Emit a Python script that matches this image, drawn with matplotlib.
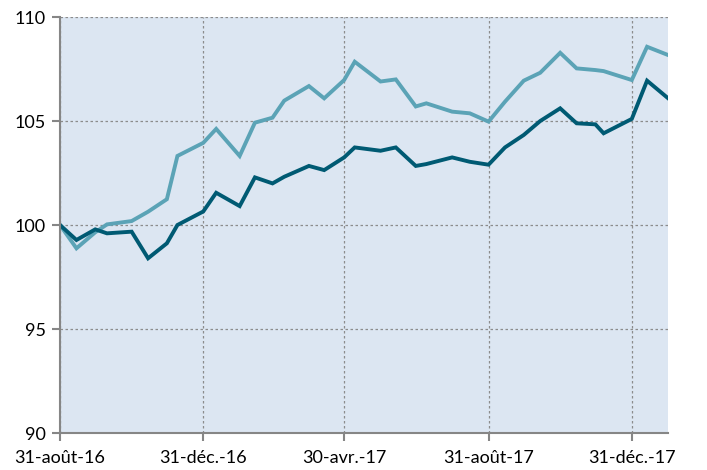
import matplotlib.pyplot as plt
import matplotlib.dates as mdates
import numpy as np
import pandas as pd

plt.rcParams['font.family'] = ['Lato', 'DejaVu Sans']

dates = ['2016-08-31', '2016-09-14', '2016-09-30', '2016-10-10', '2016-10-31',
         '2016-11-14', '2016-11-30', '2016-12-09', '2016-12-31', '2017-01-11',
         '2017-01-31', '2017-02-13', '2017-02-28', '2017-03-10', '2017-03-31',
         '2017-04-13', '2017-04-30', '2017-05-09', '2017-05-31', '2017-06-13',
         '2017-06-30', '2017-07-09', '2017-07-31', '2017-08-15', '2017-08-31',
         '2017-09-14', '2017-09-30', '2017-10-14', '2017-10-31', '2017-11-14',
         '2017-11-30', '2017-12-07', '2017-12-31', '2018-01-13', '2018-01-31']

light = [100.0, 98.88, 99.65, 100.03, 100.19, 100.64, 101.24, 103.32, 103.95, 104.62,
         103.32, 104.92, 105.16, 105.98, 106.68, 106.09, 106.97, 107.85, 106.9, 107.0,
         105.7, 105.85, 105.45, 105.37, 104.97, 105.93, 106.94, 107.32, 108.28, 107.53,
         107.45, 107.4, 106.97, 108.57, 108.17]

dark = [100.0, 99.28, 99.79, 99.6, 99.68, 98.4, 99.12, 100.0, 100.65, 101.55,
        100.91, 102.29, 102.0, 102.32, 102.84, 102.64, 103.25, 103.73, 103.57, 103.73,
        102.84, 102.93, 103.25, 103.04, 102.9, 103.73, 104.33, 105.0, 105.61, 104.89,
        104.84, 104.41, 105.1, 106.94, 106.09]

tick_dates = ['2016-08-31', '2016-12-31', '2017-04-30', '2017-08-31', '2017-12-31']
tick_labels = ['31-août-16', '31-déc.-16', '30-avr.-17', '31-août-17', '31-déc.-17']
y_ticks = [90, 95, 100, 105, 110]

x = pd.to_datetime(dates)

fig = plt.figure(figsize=(7.07, 4.70), dpi=100)
ax = fig.add_axes([0.0849, 0.0787, 0.8602, 0.8851])
ax.set_facecolor('#dce6f2')

ax.plot(x, light, color='#5ba3b6', lw=2.8, solid_joinstyle='miter', zorder=3)
ax.plot(x, dark, color='#005a73', lw=2.8, solid_joinstyle='miter', zorder=4)

ax.set_xlim(pd.Timestamp('2016-08-31'), pd.Timestamp('2018-01-31'))
ax.set_ylim(90, 110)
ax.set_yticks(y_ticks)
ax.set_xticks(pd.to_datetime(tick_dates))
ax.set_xticklabels(tick_labels)

ax.grid(True, color='#8c8c8c', linestyle=(0, (2, 2)), linewidth=0.9, zorder=1)
ax.set_axisbelow(True)

for s in ['top', 'right']:
    ax.spines[s].set_visible(False)
for s in ['left', 'bottom']:
    ax.spines[s].set_color('#868686')
    ax.spines[s].set_linewidth(1.5)
    ax.spines[s].set_zorder(5)

ax.tick_params(axis='both', colors='#868686', length=6, width=1.5,
               labelcolor='#000000', labelsize=13)
ax.tick_params(axis='x', pad=6)
ax.tick_params(axis='y', pad=4)

fig.savefig('out.png', dpi=100)
